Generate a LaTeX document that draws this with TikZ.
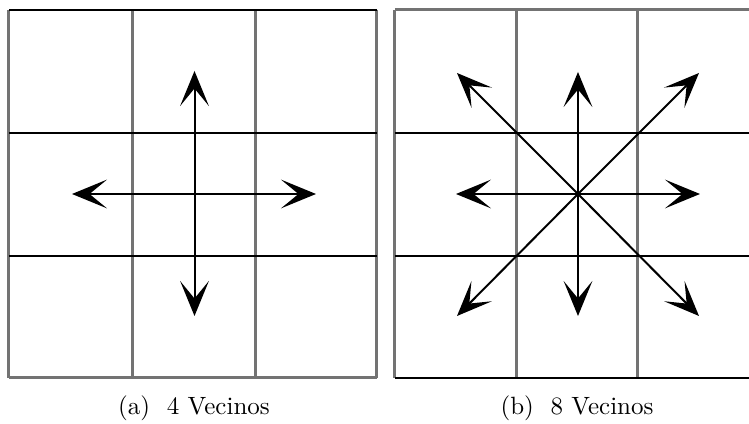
\documentclass[tikz,border=0pt]{standalone}
\usepackage{tikz}
\usetikzlibrary{arrows.meta}

\begin{document}
\begin{tikzpicture}[x=0.4pt,y=-0.4pt,>={Stealth[length=14pt,width=11.5pt,inset=7pt]},
  vline/.style={line width=1.2pt,black!55},
  hline/.style={line width=0.8pt,black},
  vec/.style={->,line width=0.8pt}]
\useasboundingbox (0,0) rectangle (749,424);
% 4 vecinos
\draw[vline] (9,10) -- (9,378);
\draw[vline] (133,10) -- (133,378);
\draw[vline] (256,10) -- (256,378);
\draw[vline] (377,10) -- (377,378);
\draw[hline] (9,10) -- (377,10);
\draw[hline] (9,133) -- (377,133);
\draw[hline] (9,256) -- (377,256);
\draw[vline] (9,378) -- (377,378);
\coordinate (ca) at (194.5,194);
\coordinate (na) at (194.5,71);
\coordinate (sa) at (194.5,316);
\coordinate (wa) at (72,194);
\coordinate (ea) at (316,194);
\draw[vec] (ca) -- (na);
\draw[vec] (ca) -- (sa);
\draw[vec] (ca) -- (wa);
\draw[vec] (ca) -- (ea);
\node (capa) at (194,408) {(a)\ \ 4 Vecinos};
% 8 vecinos
\draw[vline] (395,10) -- (395,378);
\draw[vline] (517,10) -- (517,378);
\draw[vline] (638,10) -- (638,378);
\draw[vline] (395,10) -- (760,10);
\draw[hline] (395,133) -- (760,133);
\draw[hline] (395,256) -- (760,256);
\draw[hline] (395,378) -- (760,378);
\coordinate (cb) at (578,194);
\coordinate (nb) at (578,72);
\coordinate (sb) at (578,316);
\coordinate (wb) at (456,194);
\coordinate (eb) at (700,194);
\coordinate (neb) at (699,73);
\coordinate (nwb) at (457,73);
\coordinate (seb) at (699,316);
\coordinate (swb) at (457,316);
\draw[vec] (cb) -- (nb);
\draw[vec] (cb) -- (sb);
\draw[vec] (cb) -- (wb);
\draw[vec] (cb) -- (eb);
\draw[vec] (cb) -- (neb);
\draw[vec] (cb) -- (nwb);
\draw[vec] (cb) -- (seb);
\draw[vec] (cb) -- (swb);
\node (capb) at (577,408) {(b)\ \ 8 Vecinos};
\end{tikzpicture}
\end{document}
